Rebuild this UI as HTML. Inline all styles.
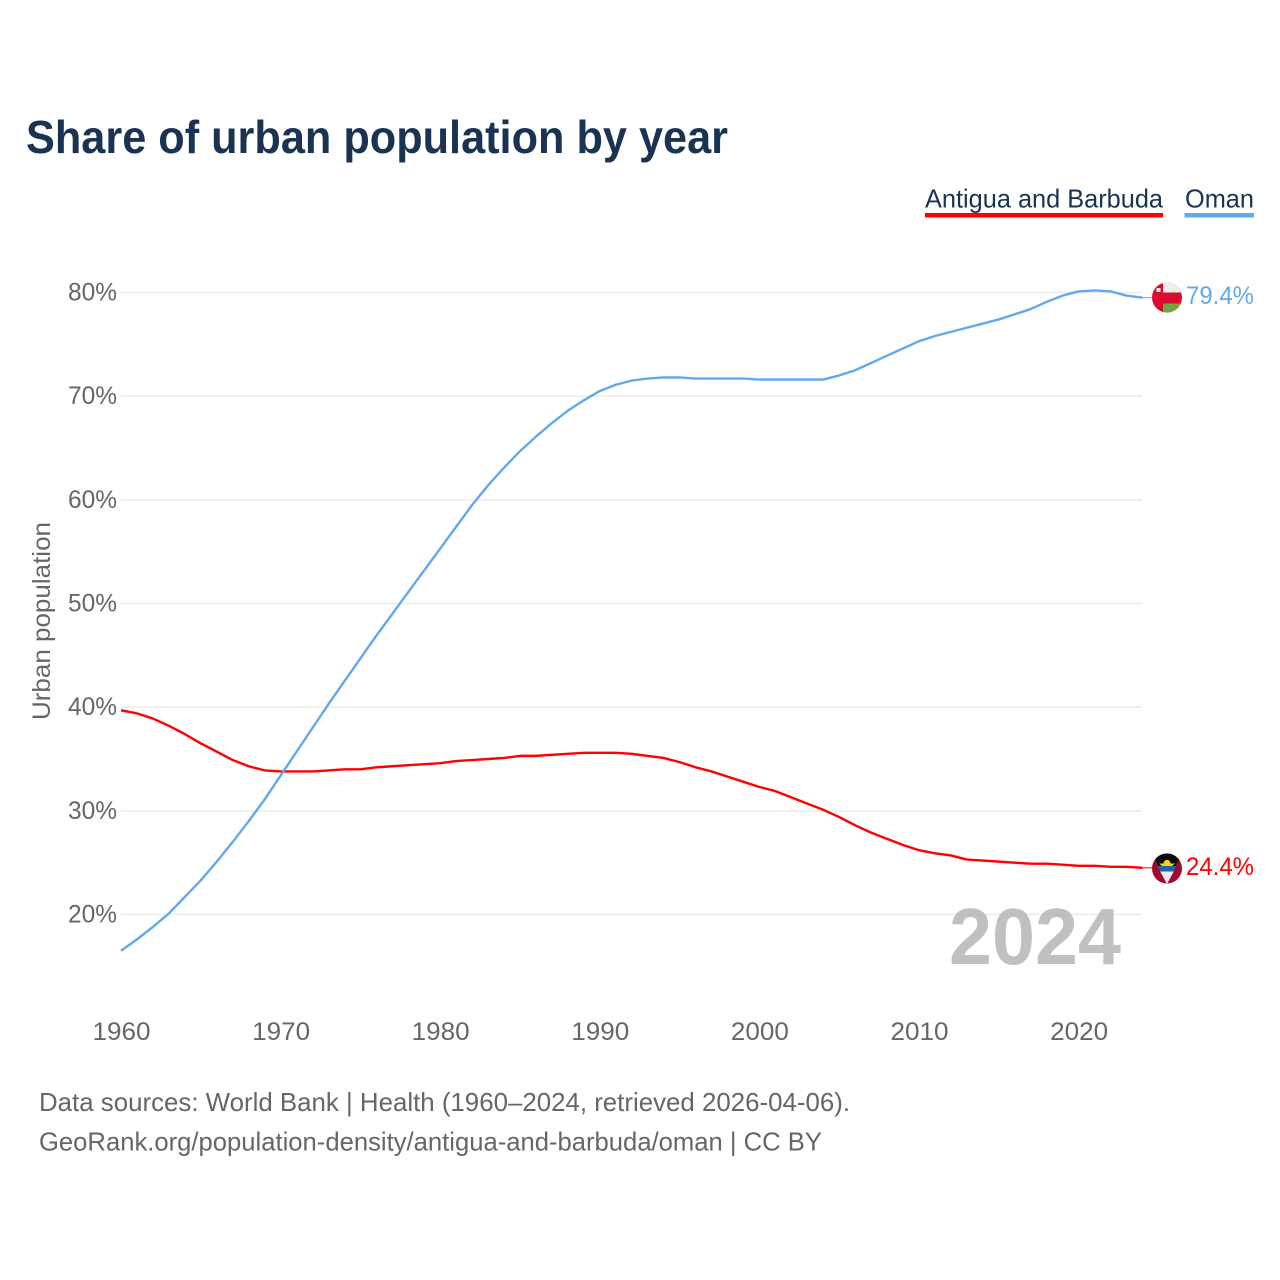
<!DOCTYPE html>
<html lang="en">
<head>
<meta charset="utf-8">
<title>Share of urban population by year</title>
<style>
html,body{margin:0;padding:0;background:#fff;width:1280px;height:1280px;overflow:hidden}
svg{display:block}
text{font-family:"Liberation Sans",sans-serif}
</style>
</head>
<body>
<svg id="chart" xmlns="http://www.w3.org/2000/svg" width="1280" height="1280" viewBox="0 0 1280 1280">
  <defs>
    <clipPath id="clip-oman"><circle cx="1167" cy="297.5" r="15"/></clipPath>
    <clipPath id="clip-antigua"><circle cx="1167" cy="868.5" r="15"/></clipPath>
  </defs>
  <rect x="0" y="0" width="1280" height="1280" fill="#fff"/>
  <text x="26" y="153" font-size="46" font-weight="700" fill="#1a3353" textLength="702" lengthAdjust="spacingAndGlyphs">Share of urban population by year</text>

  <g>
    <g>
      <text x="925" y="207.5" font-size="26" fill="#1a3353" textLength="238" lengthAdjust="spacingAndGlyphs">Antigua and Barbuda</text>
      <rect x="925" y="213" width="238" height="4.5" fill="#ff0000"/>
    </g>
    <g>
      <text x="1185" y="207.5" font-size="26" fill="#1a3353" textLength="69" lengthAdjust="spacingAndGlyphs">Oman</text>
      <rect x="1184.5" y="213" width="69.5" height="4.5" fill="#62a8ec"/>
    </g>
  </g>

  <g id="grid"></g>
  <g id="y-ticks"></g>
  <g id="x-ticks"></g>
  <text transform="translate(50,621) rotate(-90)" text-anchor="middle" font-size="25" fill="#666" textLength="198" lengthAdjust="spacingAndGlyphs">Urban population</text>

  <text x="949" y="964" font-size="80" font-weight="700" fill="#b0b0b0" fill-opacity="0.8" textLength="172" lengthAdjust="spacingAndGlyphs">2024</text>

  <g id="series"></g>

  <g clip-path="url(#clip-oman)">
    <rect x="1152" y="282" width="30" height="31" fill="#db0a2e"/>
    <rect x="1163" y="282" width="19" height="10.5" fill="#efefef"/>
    <rect x="1163" y="303.5" width="19" height="10" fill="#6fa63f"/>
    <rect x="1156.5" y="288" width="4" height="4" fill="#f5e6e6"/>
  </g>
  <g clip-path="url(#clip-antigua)">
    <rect x="1152" y="853" width="30" height="31" fill="#a30a2c"/>
    <polygon points="1152,853 1182,853 1167,884" fill="#0b0b0b"/>
    <polygon points="1159,863.5 1175,863.5 1172,866 1162,866" fill="#fcd116"/>
    <circle cx="1167" cy="863.5" r="3.6" fill="#fcd116"/>
    <polygon points="1157.5,866 1176.5,866 1173.8,871.5 1160.2,871.5" fill="#1f64b0"/>
    <polygon points="1160.2,871.5 1173.8,871.5 1167,884" fill="#ececec"/>
  </g>

  <text x="1186" y="304" font-size="25" fill="#62a8ec" textLength="68" lengthAdjust="spacingAndGlyphs">79.4%</text>
  <text x="1186" y="875" font-size="25" fill="#ff0000" textLength="68" lengthAdjust="spacingAndGlyphs">24.4%</text>

  <text x="39" y="1111" font-size="26" fill="#666" textLength="811" lengthAdjust="spacingAndGlyphs">Data sources: World Bank | Health (1960–2024, retrieved 2026-04-06).</text>
  <text x="39" y="1150.5" font-size="26" fill="#666" textLength="783" lengthAdjust="spacingAndGlyphs">GeoRank.org/population-density/antigua-and-barbuda/oman | CC BY</text>
</svg>
<script>
const startYear = 1960;
const yTickValues = [20, 30, 40, 50, 60, 70, 80];
const xTickValues = [1960, 1970, 1980, 1990, 2000, 2010, 2020];
const omanValues = [
  16.5, 17.6, 18.8, 20.1, 21.7, 23.3, 25.1, 27.0, 29.0, 31.1,
  33.4, 35.7, 38.0, 40.3, 42.5, 44.7, 46.9, 49.0, 51.1, 53.2,
  55.3, 57.4, 59.5, 61.4, 63.1, 64.7, 66.1, 67.4, 68.6, 69.6,
  70.5, 71.1, 71.5, 71.7, 71.8, 71.8, 71.7, 71.7, 71.7, 71.7,
  71.6, 71.6, 71.6, 71.6, 71.6, 72.0, 72.5, 73.2, 73.9, 74.6,
  75.3, 75.8, 76.2, 76.6, 77.0, 77.4, 77.9, 78.4, 79.1, 79.7,
  80.1, 80.2, 80.1, 79.7, 79.5
];
const antiguaValues = [
  39.7, 39.4, 38.9, 38.2, 37.4, 36.5, 35.7, 34.9, 34.3, 33.9,
  33.8, 33.8, 33.8, 33.9, 34.0, 34.0, 34.2, 34.3, 34.4, 34.5,
  34.6, 34.8, 34.9, 35.0, 35.1, 35.3, 35.3, 35.4, 35.5, 35.6,
  35.6, 35.6, 35.5, 35.3, 35.1, 34.7, 34.2, 33.8, 33.3, 32.8,
  32.3, 31.9, 31.3, 30.7, 30.1, 29.4, 28.6, 27.9, 27.3, 26.7,
  26.2, 25.9, 25.7, 25.3, 25.2, 25.1, 25.0, 24.9, 24.9, 24.8,
  24.7, 24.7, 24.6, 24.6, 24.5
];

const SVG_NS = 'http://www.w3.org/2000/svg';
function xScale(year) { return 121 + (year - 1960) * 15.96; }
function yScale(pct) { return 914.5 - (pct - 20) * 10.367; }

const gridGroup = document.getElementById('grid');
const yTickGroup = document.getElementById('y-ticks');
const xTickGroup = document.getElementById('x-ticks');
const seriesGroup = document.getElementById('series');

yTickValues.forEach(function (v) {
  const line = document.createElementNS(SVG_NS, 'line');
  
  
  line.setAttribute('x1', 121);
  line.setAttribute('x2', 1142);
  line.setAttribute('y1', yScale(v));
  line.setAttribute('y2', yScale(v));
  line.setAttribute('stroke', '#ececec');
  line.setAttribute('stroke-width', '1.5');
  gridGroup.appendChild(line);

  const label = document.createElementNS(SVG_NS, 'text');
  
  
  label.setAttribute('x', 68);
  label.setAttribute('y', yScale(v) + 8);
  label.setAttribute('font-size', '25');
  label.setAttribute('fill', '#666');
  label.setAttribute('textLength', '49');
  label.setAttribute('lengthAdjust', 'spacingAndGlyphs');
  label.textContent = v + '%';
  yTickGroup.appendChild(label);
});

xTickValues.forEach(function (y) {
  const label = document.createElementNS(SVG_NS, 'text');
  
  
  label.setAttribute('x', xScale(y) - 28.5);
  label.setAttribute('y', 1040);
  label.setAttribute('font-size', '25');
  label.setAttribute('fill', '#666');
  label.setAttribute('textLength', '58');
  label.setAttribute('lengthAdjust', 'spacingAndGlyphs');
  label.textContent = y;
  xTickGroup.appendChild(label);
});

function drawSeries(values, color, lineName, leaderName) {
  const last = values.length - 1;
  const path = document.createElementNS(SVG_NS, 'path');
  
  
  path.setAttribute('d', values.map(function (v, i) {
    return (i ? 'L' : 'M') + xScale(startYear + i).toFixed(2) + ' ' + yScale(v).toFixed(2);
  }).join(' '));
  path.setAttribute('fill', 'none');
  path.setAttribute('stroke', color);
  path.setAttribute('stroke-width', '2.4');
  path.setAttribute('stroke-linejoin', 'round');
  seriesGroup.appendChild(path);

  const leader = document.createElementNS(SVG_NS, 'line');
  
  
  leader.setAttribute('x1', xScale(startYear + last));
  leader.setAttribute('x2', 1152);
  leader.setAttribute('y1', yScale(values[last]));
  leader.setAttribute('y2', yScale(values[last]));
  leader.setAttribute('stroke', color);
  leader.setAttribute('stroke-width', '1');
  seriesGroup.appendChild(leader);
}
drawSeries(antiguaValues, '#ff0000', 'line-antigua-and-barbuda', 'leader-antigua-and-barbuda');
drawSeries(omanValues, '#62a8ec', 'line-oman', 'leader-oman');
</script>
</body>
</html>
